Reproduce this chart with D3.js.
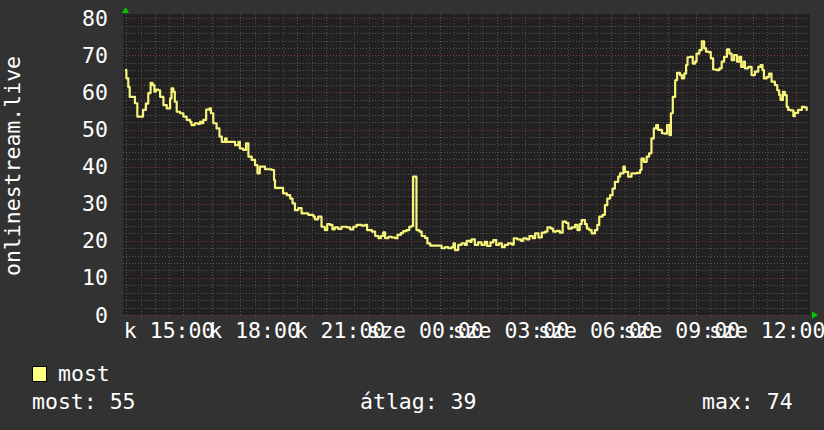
<!DOCTYPE html>
<html>
<head>
<meta charset="utf-8">
<script src="https://cdn.jsdelivr.net/npm/d3@7"></script>
<style>
  html, body { margin: 0; padding: 0; background: #323232; }
  svg { display: block; }
  text { font-family: "DejaVu Sans Mono", monospace; fill: #ffffff; }
</style>
</head>
<body>
<svg id="chart" width="824" height="430"></svg>
<script>
// ---- data ----
const startTime = "13:26";   // kedd (Tuesday)
const endTime = "13:30";     // szerda (Wednesday)
const times = [
  "13:27","13:30","13:34","13:37","13:44","13:48","13:53","13:58","14:05","14:11",
  "14:16","14:21","14:25","14:29","14:32","14:37","14:41","14:48","14:55","14:58",
  "15:02","15:05","15:09","15:12","15:16","15:23","15:30","15:37","15:44","15:47",
  "15:54","16:01","16:05","16:08","16:12","16:18","16:25","16:28","16:33","16:40",
  "16:46","16:51","16:58","17:01","17:12","17:19","17:26","17:29","17:36","17:42",
  "17:47","17:54","18:01","18:06","18:11","18:22","18:36","18:41","18:43","18:57",
  "19:00","19:08","19:15","19:20","19:25","19:32","19:39","19:53","20:04","20:07",
  "20:14","20:18","20:21","20:28","20:33","20:39","20:44","20:49","20:56","21:03",
  "21:14","21:21","21:28","21:35","21:46","21:53","21:57","22:07","22:14","22:21",
  "22:26","22:31","22:35","22:42","22:49","22:56","23:01","23:08","23:13","23:20",
  "23:26","23:31","23:34","23:39","23:41","23:47","23:52","23:59","00:04","00:10",
  "00:20","00:29","00:34","00:41","00:48","00:55","00:59","01:02","01:09","01:16",
  "01:23","01:27","01:34","01:37","01:44","01:51","01:58","02:05","02:10","02:17",
  "02:23","02:29","02:35","02:41","02:47","02:54","03:02","03:06","03:13","03:21",
  "03:26","03:33","03:39","03:46","03:51","03:58","04:05","04:12","04:17","04:24",
  "04:29","04:36","04:43","04:49","04:56","05:01","05:08","05:15","05:20","05:25",
  "05:29","05:32","05:36","05:40","05:45","05:50","05:57","06:02","06:06","06:13",
  "06:18","06:23","06:29","06:34","06:39","06:46","06:50","06:57","07:00","07:07",
  "07:14","07:25","07:32","07:35","07:40","07:46","07:51","07:56","08:01","08:06",
  "08:10","08:18","08:24","08:29","08:34","08:37","08:41","08:46","08:50","08:56",
  "09:00","09:05","09:09","09:12","09:17","09:23","09:28","09:31","09:37","09:42",
  "09:47","09:51","09:56","10:01","10:06","10:13","10:19","10:24","10:29","10:35",
  "10:40","10:45","10:50","10:56","11:01","11:05","11:10","11:13","11:20","11:27",
  "11:34","11:41","11:46","11:50","11:53","11:59","12:04","12:09","12:16","12:21",
  "12:25","12:28","12:33","12:37","12:41","12:44","12:49","12:55","12:58","13:05",
  "13:13","13:18","13:23"
];
const values = [
  66.0,63.8,61.5,58.8,58.8,57.1,53.5,53.5,55.3,57.0,
  59.8,62.6,62.0,60.2,60.8,60.6,58.8,56.6,55.7,55.7,
  58.4,61.1,60.2,57.5,54.8,54.4,53.5,52.6,52.1,51.2,
  51.7,51.5,52.1,51.7,52.6,55.4,55.7,54.4,51.7,50.3,
  48.1,46.7,47.6,46.7,46.7,45.8,46.7,44.9,44.5,46.3,
  42.7,41.8,40.4,38.2,40.0,39.3,39.1,36.4,34.3,34.3,
  32.8,32.3,31.4,30.1,28.3,28.8,27.4,27.0,26.5,25.8,
  26.5,26.5,23.8,22.9,24.5,24.3,23.1,23.6,23.2,23.8,
  23.6,23.1,23.8,24.3,24.1,24.3,22.9,22.5,21.3,20.7,
  21.3,22.3,20.7,21.1,20.9,20.7,21.6,22.1,22.6,22.9,
  23.8,24.0,37.3,37.3,22.9,22.5,21.3,20.8,19.3,18.7,
  18.7,18.7,18.0,18.3,18.0,18.3,19.3,17.5,18.9,19.3,
  18.9,20.0,19.7,20.4,18.9,19.6,18.9,19.7,18.6,19.6,
  20.2,18.9,19.3,18.3,18.9,19.3,19.0,20.7,20.4,20.0,
  20.7,20.4,21.3,20.7,22.0,20.9,22.2,22.5,23.6,23.3,
  22.5,22.7,22.2,25.2,24.8,23.3,23.6,24.3,22.9,24.5,
  25.6,25.6,24.5,23.3,22.9,22.0,22.9,24.3,26.5,27.0,
  29.6,31.4,32.3,34.1,35.9,37.3,38.2,40.0,38.6,37.3,
  38.2,38.3,39.1,42.2,41.3,42.7,43.6,47.6,50.3,51.2,
  49.9,49.0,48.9,51.2,48.5,54.4,58.8,63.3,65.3,64.7,
  63.8,65.1,67.4,69.5,69.6,67.8,68.3,70.5,71.4,73.8,
  71.9,71.0,70.9,69.2,66.2,66.0,66.5,68.3,69.6,71.6,
  70.5,68.7,70.1,68.3,69.6,66.9,68.3,66.5,66.9,64.7,
  65.6,66.9,67.4,66.0,63.8,64.2,65.1,62.9,62.0,60.6,
  59.3,58.0,60.2,59.3,56.1,55.3,55.2,53.6,54.5,55.3,
  56.1,56.0,55.1
];
const seriesName = "most";
const yTicks = [0, 10, 20, 30, 40, 50, 60, 70, 80];
const yAxisTitle = "onlinestream.live";
const dayAbbr = ["v", "h", "k", "sze", "cs", "p", "szo"];
const legendStats = [
  {label: "most", value: 55},
  {label: "átlag", value: 39},
  {label: "max", value: 74}
];

// ---- helpers ----
function toDate(hhmm, refStart) {
  const [h, m] = hhmm.split(":").map(Number);
  // Tuesday 2024-01-02; times before the start fall on Wednesday
  const day = (h * 60 + m) < refStart ? 3 : 2;
  return new Date(2024, 0, day, h, m);
}
const [sh, sm] = startTime.split(":").map(Number);
const startMin = sh * 60 + sm;
const t0 = new Date(2024, 0, 2, sh, sm);
const [eh, em] = endTime.split(":").map(Number);
const t1 = new Date(2024, 0, 3, eh, em);
const data = times.map((t, i) => ({t: toDate(t, startMin), v: values[i]}));

// ---- layout ----
const svg = d3.select("#chart");
const W = 824, H = 430;
const FS = 21.5;
const plot = {left: 123, right: 810, top: 14, bottom: 315};

svg.append("rect").attr("width", W).attr("height", H).attr("fill", "#323232");

const x = d3.scaleTime().domain([t0, t1]).range([124.5, 810]);
const y = d3.scaleLinear().domain([0, 80]).range([315, 18.3]);

// plot background
svg.append("rect")
  .attr("x", plot.left).attr("y", plot.top)
  .attr("width", plot.right - plot.left).attr("height", plot.bottom - plot.top)
  .attr("fill", "#212121");

const grid = svg.append("g").attr("shape-rendering", "crispEdges");

// minor horizontal grid (every 2)
const minorY = d3.range(0, 81, 2).filter(v => v % 10 !== 0);
grid.selectAll("line.hmin").data(minorY).join("line")
  .attr("x1", plot.left).attr("x2", plot.right)
  .attr("y1", d => Math.round(y(d)) + 0.5).attr("y2", d => Math.round(y(d)) + 0.5)
  .attr("stroke", "#555555").attr("stroke-dasharray", "1,2");

// minor vertical grid (every 30 min)
const minorX = d3.timeMinute.every(30).range(t0, t1).filter(d => d.getMinutes() !== 0);
grid.selectAll("line.vmin").data(minorX).join("line")
  .attr("x1", d => Math.round(x(d)) + 0.5).attr("x2", d => Math.round(x(d)) + 0.5)
  .attr("y1", plot.top).attr("y2", plot.bottom)
  .attr("stroke", "#555555").attr("stroke-dasharray", "1,2");

// major horizontal grid (every 10)
grid.selectAll("line.hmaj").data(yTicks).join("line")
  .attr("x1", plot.left).attr("x2", plot.right)
  .attr("y1", d => Math.round(y(d)) + 0.5).attr("y2", d => Math.round(y(d)) + 0.5)
  .attr("stroke", "#7a3838").attr("stroke-dasharray", "1,2");

// major vertical grid (every hour)
const majorX = d3.timeHour.every(1).range(t0, t1);
grid.selectAll("line.vmaj").data(majorX).join("line")
  .attr("x1", d => Math.round(x(d)) + 0.5).attr("x2", d => Math.round(x(d)) + 0.5)
  .attr("y1", plot.top).attr("y2", plot.bottom + 3)
  .attr("stroke", "#7a3838").attr("stroke-dasharray", "1,2");

// y axis labels
svg.append("g").selectAll("text").data(yTicks).join("text")
  .attr("x", 108).attr("y", d => y(d))
  .attr("text-anchor", "end").attr("dominant-baseline", "central")
  .attr("font-size", FS)
  .text(d => d);

// x axis labels (every 3 hours)
const fmtHM = d3.timeFormat("%H:%M");
const xTicks = d3.timeHour.every(3).range(t0, t1);
svg.append("g").selectAll("text").data(xTicks).join("text")
  .attr("x", d => x(d)).attr("y", 338)
  .attr("text-anchor", "middle")
  .attr("font-size", FS)
  .text(d => dayAbbr[d.getDay()] + " " + fmtHM(d));

// y axis title
svg.append("text")
  .attr("transform", "translate(20,166) rotate(-90)")
  .attr("text-anchor", "middle")
  .attr("font-size", FS)
  .text(yAxisTitle);

// data line
const line = d3.line()
  .x(d => x(d.t)).y(d => y(d.v))
  .curve(d3.curveStepAfter);
svg.append("path").datum(data)
  .attr("d", line)
  .attr("fill", "none")
  .attr("stroke", "#f6f47a")
  .attr("stroke-width", 2.2)
  .attr("stroke-linejoin", "round");

// green arrows
svg.append("path")
  .attr("d", `M${plot.left - 1},${plot.top - 1} l3.5,-6 l3.5,6 Z`)
  .attr("fill", "#00cc00");
svg.append("path")
  .attr("d", `M${plot.right + 2},${plot.bottom - 3.5} l6,3.5 l-6,3.5 Z`)
  .attr("fill", "#00cc00");

// legend
svg.append("rect")
  .attr("x", 32.5).attr("y", 366.5).attr("width", 14).attr("height", 15)
  .attr("fill", "#ffff80").attr("stroke", "#000").attr("stroke-width", 1);
svg.append("text").attr("x", 58).attr("y", 381).attr("font-size", FS).text(seriesName);

const statX = [32, 360, 702];
svg.append("g").selectAll("text").data(legendStats).join("text")
  .attr("x", (d, i) => statX[i]).attr("y", 409)
  .attr("font-size", FS)
  .text(d => `${d.label}: ${d.value}`);
</script>
</body>
</html>
